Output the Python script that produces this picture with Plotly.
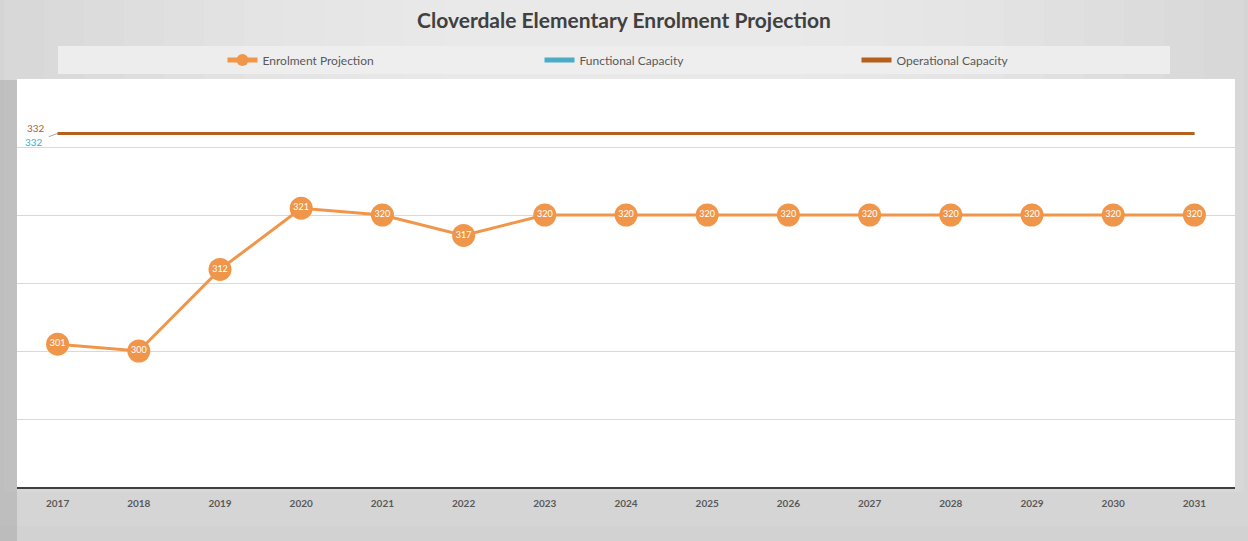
import plotly.graph_objects as go

years = [str(y) for y in range(2017, 2032)]
enrolment = [301, 300, 312, 321, 320, 317, 320, 320, 320, 320, 320, 320, 320, 320, 320]
functional = [332] * 15
operational = [332] * 15

ORANGE = "#f0964a"
TEAL = "#4bacc6"
BROWN = "#b5601c"
GREY = "#595959"

W, H = 1248, 541
L, R, T, B = 17, 13, 79, 54
PW, PH = W - L - R, H - T - B


def px(xp):
    return (xp - L) / PW


def py(yp):
    return (H - B - yp) / PH


fig = go.Figure()
fig.add_trace(go.Scatter(
    x=years, y=enrolment, name="Enrolment Projection", mode="lines+markers+text",
    line=dict(color=ORANGE, width=3), marker=dict(color=ORANGE, size=23),
    text=[str(v) for v in enrolment], textposition="middle center",
    textfont=dict(color="white", size=9, family="Lato"),
))
fig.add_trace(go.Scatter(
    x=years, y=functional, name="Functional Capacity", mode="lines",
    line=dict(color=TEAL, width=3),
))
fig.add_trace(go.Scatter(
    x=years, y=operational, name="Operational Capacity", mode="lines",
    line=dict(color=BROWN, width=3),
))

shapes = []
# background shading: approximate radial gradient lighter at top centre
N = 14
for i in range(N):
    f = i / (N - 1)
    hw = 700 - f * 520
    hh = 560 - f * 440
    shapes.append(dict(type="rect", xref="paper", yref="paper", layer="below",
                       x0=px(624 - hw), x1=px(624 + hw),
                       y0=py(0 + hh), y1=py(0),
                       line=dict(width=0), fillcolor="rgba(255,255,255,0.07)"))
# darker left strip
shapes.append(dict(type="rect", xref="paper", yref="paper", layer="below",
                   x0=px(0), x1=px(17), y0=py(541), y1=py(80),
                   line=dict(width=0), fillcolor="rgba(150,150,150,0.35)"))
# legend band
shapes.append(dict(type="rect", xref="paper", yref="paper", layer="below",
                   x0=px(58), x1=px(1170), y0=py(74), y1=py(46),
                   line=dict(width=0), fillcolor="rgba(238,238,238,0.9)"))
# plot area white background
shapes.append(dict(type="rect", xref="paper", yref="paper", layer="below",
                   x0=0, x1=1, y0=0, y1=1,
                   line=dict(width=0), fillcolor="white"))

annotations = [
    dict(x=0, y=operational[0], xref="x", yref="y", text="332",
         showarrow=False, xshift=-22, yshift=5,
         font=dict(color=BROWN, size=10, family="Lato")),
    dict(x=0, y=functional[0], xref="x", yref="y", text="332",
         showarrow=True, ax=-24, ay=9, arrowhead=0, arrowwidth=1,
         arrowcolor="#a6a6a6", standoff=0, startstandoff=5,
         font=dict(color=TEAL, size=10, family="Lato")),
]

fig.update_layout(
    width=W, height=H,
    margin=dict(l=L, r=R, t=T, b=B),
    paper_bgcolor="#cfcfcf",
    plot_bgcolor="rgba(0,0,0,0)",
    title=dict(text="<b>Cloverdale Elementary Enrolment Projection</b>",
               x=0.5, xanchor="center", y=1 - 21 / H, yanchor="middle",
               font=dict(family="Lato", size=21, color="#404040")),
    legend=dict(orientation="h", x=0.5 + 72 / PW, xanchor="center",
                y=py(60), yanchor="middle",
                entrywidth=272, bgcolor="rgba(0,0,0,0)",
                font=dict(family="Lato", size=12, color=GREY),
                itemwidth=30, itemsizing="constant"),
    showlegend=True,
    shapes=shapes,
    annotations=annotations,
    xaxis=dict(type="category", range=[-0.5, 14.5], showgrid=False,
               showline=True, linecolor="#404040", linewidth=2,
               ticks="outside", ticklen=6, tickcolor="rgba(0,0,0,0)",
               tickfont=dict(family="Lato", size=10, color=GREY),
               tickprefix="<b>", ticksuffix="</b>", fixedrange=True),
    yaxis=dict(range=[280, 340], tickvals=[290, 300, 310, 320, 330],
               showticklabels=False, showgrid=True, gridcolor="#d9d9d9",
               gridwidth=1, zeroline=False, showline=False, fixedrange=True),
)

fig.write_html("out.html", config={"displayModeBar": False},
               post_script="document.body.style.margin='0';")
